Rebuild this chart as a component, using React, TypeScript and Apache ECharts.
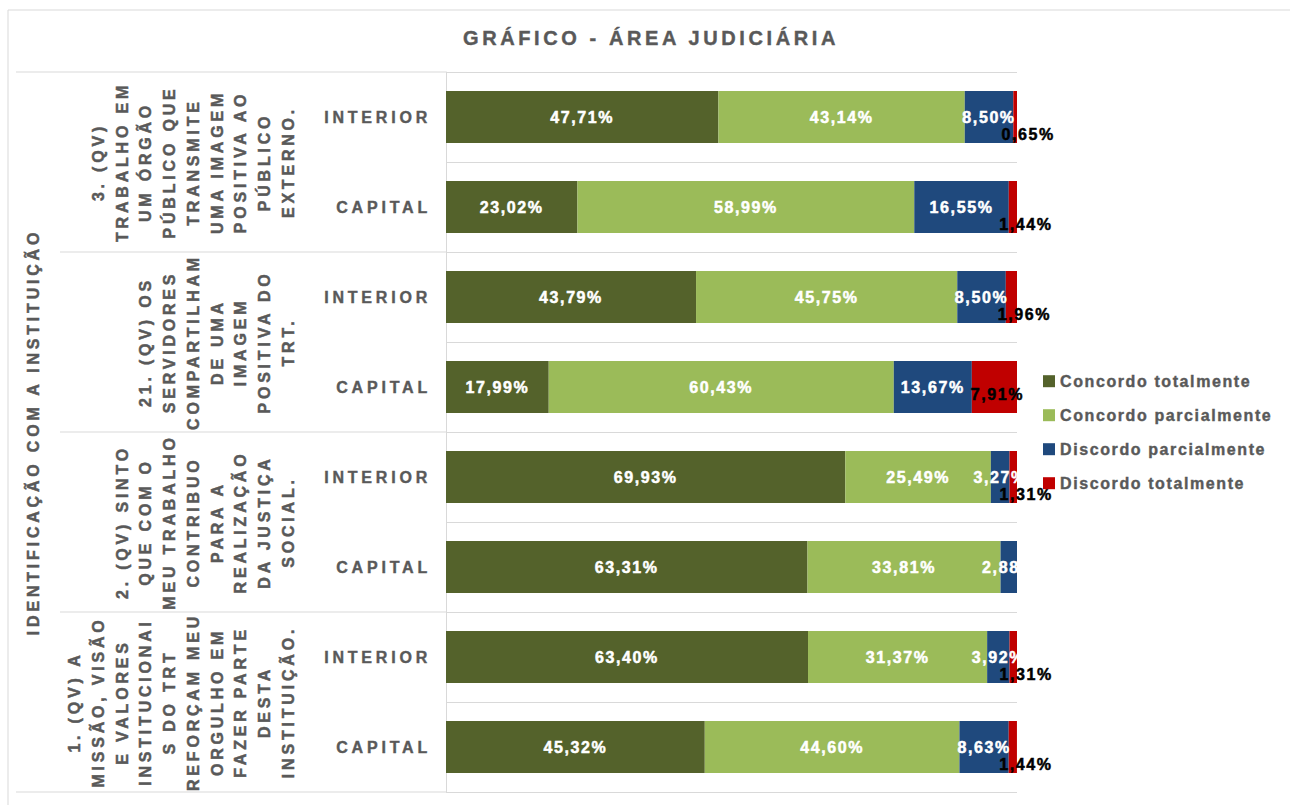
import React, { useEffect, useRef } from 'react';
import * as echarts from 'echarts';

const chartTitle = 'GRÁFICO - ÁREA JUDICIÁRIA';
const outerLabel = 'IDENTIFICAÇÃO COM A INSTITUIÇÃO';

const locations = ['INTERIOR', 'CAPITAL', 'INTERIOR', 'CAPITAL', 'INTERIOR', 'CAPITAL', 'INTERIOR', 'CAPITAL'];

const questionLines = [
  ['3. (QV)', 'TRABALHO EM', 'UM ÓRGÃO', 'PÚBLICO QUE', 'TRANSMITE', 'UMA IMAGEM', 'POSITIVA AO', 'PÚBLICO', 'EXTERNO.'],
  ['21. (QV) OS', 'SERVIDORES', 'COMPARTILHAM', 'DE UMA', 'IMAGEM', 'POSITIVA DO', 'TRT.'],
  ['2. (QV) SINTO', 'QUE COM O', 'MEU TRABALHO', 'CONTRIBUO', 'PARA A', 'REALIZAÇÃO', 'DA JUSTIÇA', 'SOCIAL.'],
  ['1. (QV) A', 'MISSÃO, VISÃO', 'E VALORES', 'INSTITUCIONAI', 'S DO TRT', 'REFORÇAM MEU', 'ORGULHO EM', 'FAZER PARTE', 'DESTA', 'INSTITUIÇÃO.'],
];

const seriesNames = ['Concordo totalmente', 'Concordo parcialmente', 'Discordo parcialmente', 'Discordo totalmente'];

const concordoTotalmente = [47.71, 23.02, 43.79, 17.99, 69.93, 63.31, 63.4, 45.32];
const concordoParcialmente = [43.14, 58.99, 45.75, 60.43, 25.49, 33.81, 31.37, 44.6];
const discordoParcialmente = [8.5, 16.55, 8.5, 13.67, 3.27, 2.88, 3.92, 8.63];
const discordoTotalmente = [0.65, 1.44, 1.96, 7.91, 1.31, 0, 1.31, 1.44];

const colors = ['#54622b', '#9bbb59', '#1f497d', '#c00000'];
const FONT = "'Liberation Sans', Arial, sans-serif";
const GRAY = '#595959';
const LINE = '#d9d9d9';

const gridTop = 72;
const gridLeft = 446;
const gridWidth = 571;
const rowH = 90;

const fmt = (v: number) => (v ? v.toFixed(2).replace('.', ',') + '%' : '');

export default function App() {
  const ref = useRef<HTMLDivElement>(null);

  useEffect(() => {
    document.body.style.margin = '0';
    if (!ref.current) return;
    const chart = echarts.init(ref.current, undefined, { renderer: 'svg' });

    const valueSets = [concordoTotalmente, concordoParcialmente, discordoParcialmente, discordoTotalmente];
    const series = valueSets.map((vals, i) => {
      const c = i === 3 ? '#000000' : '#ffffff';
      return {
        name: seriesNames[i],
        type: 'bar',
        stack: 'total',
        barWidth: 52,
        itemStyle: { color: colors[i] },
        label: {
          show: true,
          position: 'inside',
          color: c,
          textBorderColor: c,
          textBorderWidth: 0.5,
          fontFamily: FONT,
          fontWeight: 'bold',
          fontSize: 16,
          formatter: (p: any) => fmt(p.value),
        },
        emphasis: { disabled: true },
        data:
          i === 3
            ? vals.map((v) => ({ value: v, label: { offset: v < 5 ? [13, 17] : [3, 7] } }))
            : vals,
      };
    });

    const gray = {
      fontFamily: FONT,
      fontWeight: 'bold',
      fontSize: 16,
      fill: GRAY,
      stroke: GRAY,
      lineWidth: 0.5,
    };

    const graphics: any[] = [];
    graphics.push({
      type: 'rect',
      shape: { x: 8, y: 10, width: 1300, height: 800 },
      style: { fill: 'none', stroke: LINE, lineWidth: 1 },
      silent: true,
    });
    const nRows = locations.length;
    for (let b = 0; b <= nRows; b += 2) {
      const y = gridTop + b * rowH;
      const x1 = b === 0 || b === nRows ? 16 : 60;
      graphics.push({
        type: 'line',
        shape: { x1, y1: y, x2: gridLeft, y2: y },
        style: { stroke: LINE, lineWidth: 1 },
        silent: true,
      });
    }
    questionLines.forEach((lines, g) => {
      graphics.push({
        type: 'text',
        x: 300,
        y: gridTop + (2 * g + 1) * rowH,
        rotation: Math.PI / 2,
        silent: true,
        style: {
          ...gray,
          text: lines.join('\n'),
          align: 'center',
          verticalAlign: 'bottom',
          lineHeight: 23.7,
        },
      });
    });
    graphics.push({
      type: 'text',
      x: 33,
      y: gridTop + (nRows / 2) * rowH,
      rotation: Math.PI / 2,
      silent: true,
      style: {
        ...gray,
        text: outerLabel,
        align: 'center',
        verticalAlign: 'middle',
      },
    });

    chart.setOption({
      animation: false,
      title: {
        text: chartTitle,
        left: 463,
        top: 28,
        padding: 0,
        textStyle: {
          fontFamily: FONT,
          fontWeight: 'bold',
          fontSize: 20,
          color: GRAY,
          textBorderColor: GRAY,
          textBorderWidth: 0.4,
        },
      },
      legend: {
        orient: 'vertical',
        left: 1043,
        top: 373,
        padding: 0,
        itemWidth: 12,
        itemHeight: 12,
        itemGap: 17.6,
        icon: 'rect',
        selectedMode: false,
        textStyle: {
          fontFamily: FONT,
          fontWeight: 'bold',
          fontSize: 16,
          color: GRAY,
          lineHeight: 16,
          textBorderColor: GRAY,
          textBorderWidth: 0.4,
        },
        data: seriesNames,
      },
      grid: { left: gridLeft, top: gridTop, width: gridWidth, height: rowH * nRows, containLabel: false },
      xAxis: {
        type: 'value',
        min: 0,
        max: 100,
        show: false,
      },
      yAxis: {
        type: 'category',
        inverse: true,
        data: locations.map((l, i) => l + '#' + i),
        axisLine: { show: true, lineStyle: { color: LINE } },
        axisTick: { show: false },
        splitLine: { show: true, interval: 0, lineStyle: { color: LINE } },
        axisLabel: {
          margin: 15,
          interval: 0,
          fontFamily: FONT,
          fontWeight: 'bold',
          fontSize: 16,
          color: GRAY,
          textBorderColor: GRAY,
          textBorderWidth: 0.4,
          formatter: (v: string) => v.split('#')[0],
        },
      },
      graphic: graphics,
      series,
    });

    const applySpacing = () => {
      const root = ref.current;
      if (!root) return;
      root.querySelectorAll('text').forEach((t) => {
        const s = t.textContent || '';
        let ls = 3.8;
        if (s === chartTitle) ls = 3.6;
        else if (seriesNames.includes(s)) ls = 1.6;
        else if (s.endsWith('%')) ls = 1.6;
        (t as SVGTextElement).style.letterSpacing = ls + 'px';
      });
    };
    applySpacing();
    chart.on('finished', applySpacing);

    return () => {
      chart.dispose();
    };
  }, []);

  return <div ref={ref} style={{ position: 'absolute', left: 0, top: 0, width: 1290, height: 805 }} />;
}
